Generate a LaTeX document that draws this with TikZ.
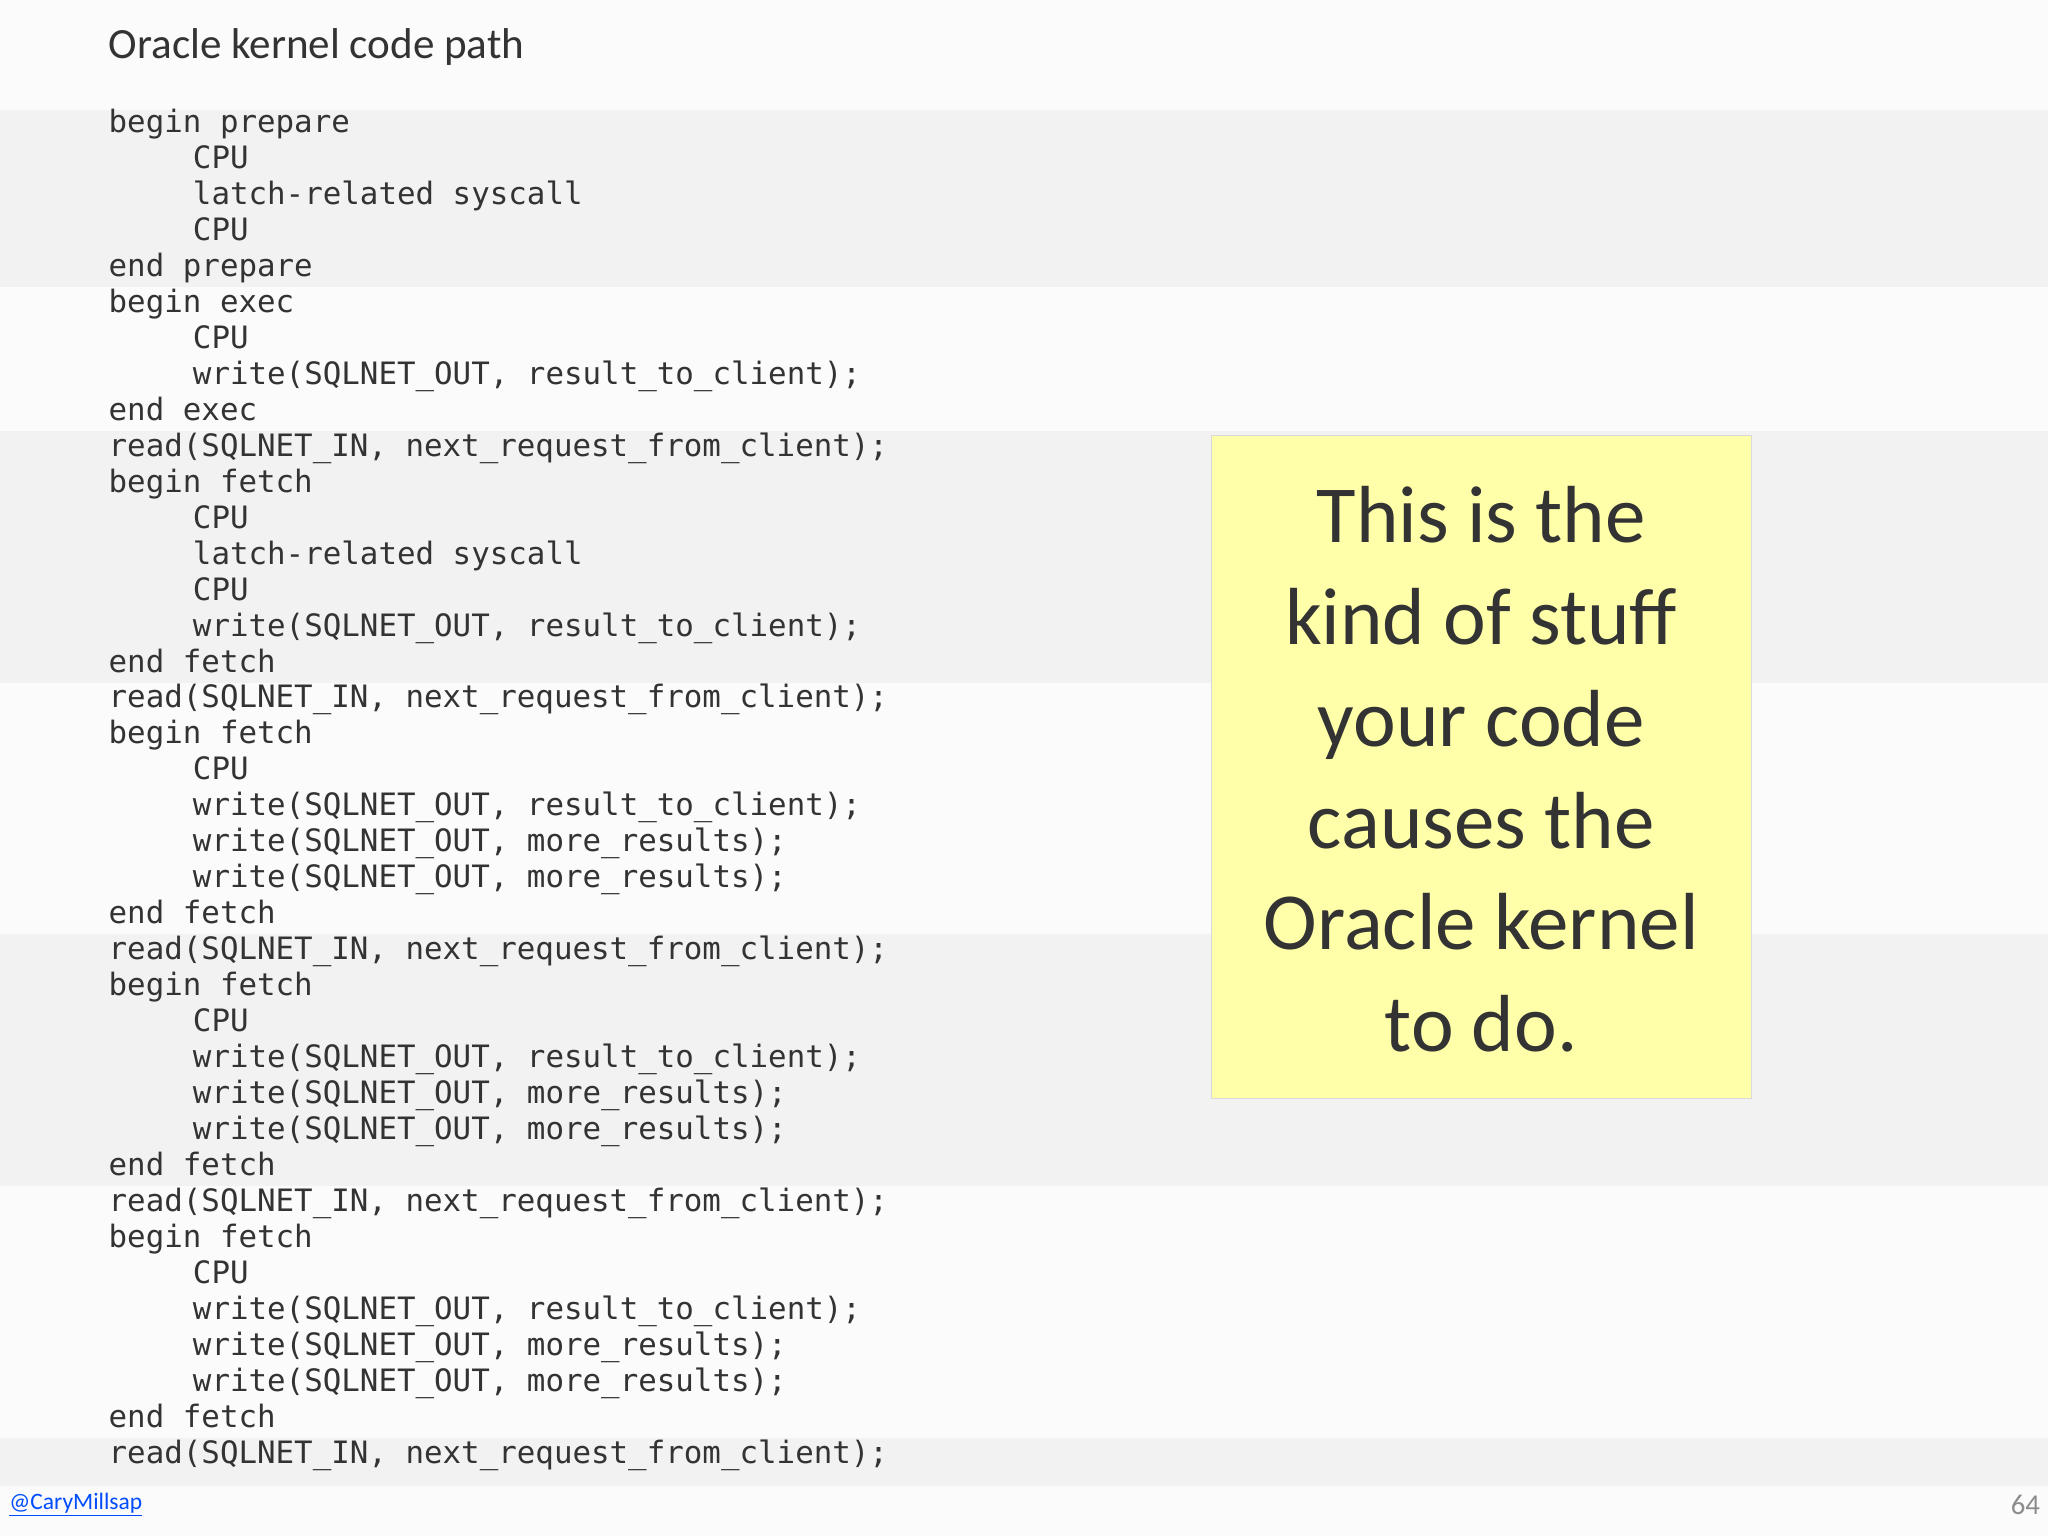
\documentclass[tikz,border=0pt]{standalone}
\usepackage{fontspec}
\setmainfont{Carlito}
\newfontfamily\codefont{DejaVu Sans Mono}
\definecolor{band}{HTML}{F2F2F2}
\definecolor{bg}{HTML}{FBFBFB}
\definecolor{note}{HTML}{FFFFAA}
\definecolor{ink}{HTML}{333333}
\begin{document}
\begin{tikzpicture}[x=1pt,y=-1pt,
  code/.style={anchor=west,inner sep=0pt,font=\codefont\fontsize{23.6}{27}\selectfont,text=ink}]
\fill[bg] (0,0) rectangle (1568,1176);
\useasboundingbox (0,0) rectangle (1568,1176);
\foreach \a/\b in {84/220,330/523,715/908,1101/1138}{\fill[band] (0,\a) rectangle (1568,\b);}
\node[anchor=west,inner sep=0pt,font=\fontsize{33}{36}\selectfont,text=ink] (title) at (83,36) {Oracle kernel code path};
\def\L{0}
\foreach \t [count=\i from 0] in {
 {begin prepare},{\hspace*{5ex}CPU},{\hspace*{5ex}latch-related syscall},{\hspace*{5ex}CPU},{end prepare},
 {begin exec},{\hspace*{5ex}CPU},{\hspace*{5ex}write(SQLNET\_OUT, result\_to\_client);},{end exec},
 {read(SQLNET\_IN, next\_request\_from\_client);},{begin fetch},{\hspace*{5ex}CPU},{\hspace*{5ex}latch-related syscall},{\hspace*{5ex}CPU},{\hspace*{5ex}write(SQLNET\_OUT, result\_to\_client);},{end fetch},
 {read(SQLNET\_IN, next\_request\_from\_client);},{begin fetch},{\hspace*{5ex}CPU},{\hspace*{5ex}write(SQLNET\_OUT, result\_to\_client);},{\hspace*{5ex}write(SQLNET\_OUT, more\_results);},{\hspace*{5ex}write(SQLNET\_OUT, more\_results);},{end fetch},
 {read(SQLNET\_IN, next\_request\_from\_client);},{begin fetch},{\hspace*{5ex}CPU},{\hspace*{5ex}write(SQLNET\_OUT, result\_to\_client);},{\hspace*{5ex}write(SQLNET\_OUT, more\_results);},{\hspace*{5ex}write(SQLNET\_OUT, more\_results);},{end fetch},
 {read(SQLNET\_IN, next\_request\_from\_client);},{begin fetch},{\hspace*{5ex}CPU},{\hspace*{5ex}write(SQLNET\_OUT, result\_to\_client);},{\hspace*{5ex}write(SQLNET\_OUT, more\_results);},{\hspace*{5ex}write(SQLNET\_OUT, more\_results);},{end fetch},
 {read(SQLNET\_IN, next\_request\_from\_client);}}
 {\node[code] (line\i) at (83,{96+\i*27.54}) {\strut\t};}
\node[draw=black!15,fill=note,minimum width=414pt,minimum height=508pt,inner sep=0pt] (notebox) at (1134,587) {};
\node[align=center,font=\fontsize{62}{78}\selectfont,text=ink] (notetext) at (1134,589) {This is the\\kind of stuff\\your code\\causes the\\Oracle kernel\\to do.};
\node[anchor=west,inner sep=0pt,font=\fontsize{18}{20}\selectfont,text=blue!70!cyan] (handle) at (7,1152) {\underline{@CaryMillsap}};
\node[anchor=east,inner sep=0pt,font=\fontsize{22}{24}\selectfont,text=black!45] (page) at (1562,1152) {64};
\end{tikzpicture}
\end{document}
